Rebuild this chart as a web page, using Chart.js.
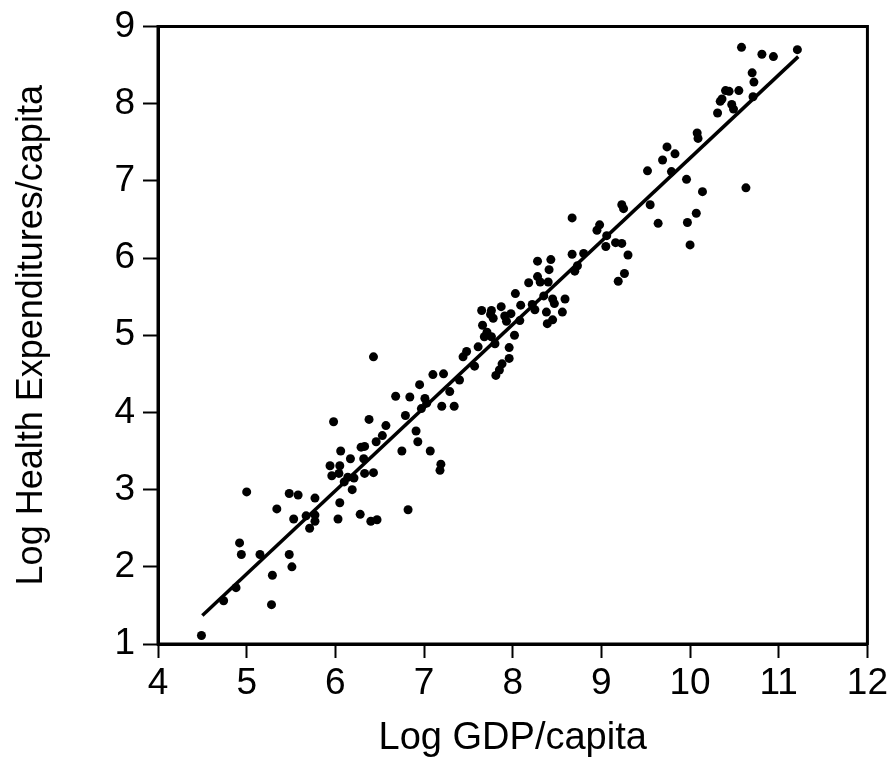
<!DOCTYPE html>
<html>
<head>
<meta charset="utf-8">
<script src="https://cdn.jsdelivr.net/npm/chart.js@4.4.1/dist/chart.umd.min.js"></script>
<style>
  html, body { margin: 0; padding: 0; background: #fff; }
  #wrap { position: relative; width: 892px; height: 763px; }
</style>
</head>
<body>
<div id="wrap"><canvas id="scatterChart"></canvas></div>
<script>
// --- data ---
const logGdp = [
  4.49, 4.74, 4.88, 4.92, 4.94, 5.00, 5.15, 5.29, 5.28, 5.34,
  5.48, 5.48, 5.51, 5.53, 5.58, 5.67, 5.71, 5.77, 5.77, 5.77,
  5.98, 5.94, 5.96, 6.04, 6.03, 6.06, 6.05, 6.05, 6.10, 6.14,
  6.17, 6.19, 6.21, 6.28, 6.29, 6.33, 6.32, 6.33, 6.38, 6.40,
  6.43, 6.43, 6.47, 6.46, 6.53, 6.57, 6.68, 6.75, 6.79, 6.82,
  6.84, 6.91, 6.93, 6.95, 6.97, 7.01, 7.03, 7.07, 7.10, 7.19,
  7.18, 7.20, 7.22, 7.29, 7.34, 7.40, 7.44, 7.48, 7.57, 7.61,
  7.65, 7.66, 7.68, 7.71, 7.75, 7.76, 7.78, 7.76, 7.80, 7.81,
  7.85, 7.87, 7.88, 7.91, 7.93, 7.96, 7.96, 7.98, 8.02, 8.03,
  8.08, 8.09, 8.18, 8.22, 8.25, 8.28, 8.28, 8.31, 8.35, 8.38,
  8.39, 8.40, 8.41, 8.43, 8.45, 8.45, 8.47, 8.56, 8.59, 8.67,
  8.67, 8.70, 8.73, 8.80, 8.95, 8.98, 9.06, 9.05, 9.16, 9.19,
  9.23, 9.23, 9.25, 9.26, 9.30, 9.52, 9.55, 9.64, 9.69, 9.74,
  9.79, 9.83, 9.96, 9.97, 10.00, 10.07, 10.08, 10.09, 10.14, 10.31,
  10.34, 10.36, 10.40, 10.44, 10.47, 10.49, 10.55, 10.58, 10.63, 10.70,
  10.72, 10.71, 10.81, 10.94, 11.21
];
const logHealth = [
  1.11, 1.56, 1.73, 2.31, 2.16, 2.97, 2.16, 1.89, 1.51, 2.75,
  2.95, 2.16, 2.00, 2.62, 2.93, 2.66, 2.50, 2.89, 2.67, 2.59,
  3.88, 3.31, 3.18, 3.21, 2.62, 3.50, 3.31, 2.83, 3.10, 3.16,
  3.40, 3.00, 3.15, 2.68, 3.55, 3.56, 3.40, 3.21, 3.91, 2.59,
  3.22, 4.72, 2.61, 3.62, 3.70, 3.83, 4.21, 3.50, 3.96, 2.74,
  4.20, 3.76, 3.62, 4.36, 4.05, 4.18, 4.12, 3.50, 4.49, 3.33,
  3.25, 4.08, 4.50, 4.27, 4.08, 4.42, 4.72, 4.79, 4.60, 4.85,
  5.32, 5.13, 4.98, 5.04, 5.27, 5.32, 5.22, 4.98, 4.89, 4.48,
  4.55, 5.37, 4.63, 5.25, 5.18, 4.84, 4.70, 5.28, 5.00, 5.54,
  5.19, 5.39, 5.68, 5.40, 5.33, 5.96, 5.76, 5.69, 5.51, 5.30,
  5.15, 5.69, 5.85, 5.98, 5.20, 5.47, 5.41, 5.30, 5.47, 6.52,
  6.05, 5.83, 5.90, 6.06, 6.36, 6.43, 6.29, 6.15, 6.20, 5.70,
  6.69, 6.19, 6.64, 5.80, 6.04, 7.13, 6.69, 6.45, 7.27, 7.44,
  7.12, 7.35, 7.02, 6.46, 6.17, 6.58, 7.62, 7.55, 6.86, 7.88,
  8.03, 8.06, 8.17, 8.16, 7.99, 7.93, 8.17, 8.73, 6.91, 8.40,
  8.28, 8.09, 8.64, 8.61, 8.70
];
// fitted line, its two ends
const fitX = [4.50, 11.22];
const fitY = [1.37, 8.61];

const xTicks = [4, 5, 6, 7, 8, 9, 10, 11, 12];
const yTicks = [1, 2, 3, 4, 5, 6, 7, 8, 9];

const FONT = "'Liberation Sans', Arial, sans-serif";

// cadre complet autour de la zone du graphique
const framePlugin = {
  id: 'frame',
  afterDraw(chart) {
    const a = chart.chartArea;
    const ctx = chart.ctx;
    ctx.save();
    ctx.strokeStyle = '#000';
    ctx.lineWidth = 3;
    ctx.strokeRect(a.left, a.top, a.right - a.left, a.bottom - a.top);
    ctx.restore();
  }
};

const ctx = document.getElementById('scatterChart').getContext('2d');
new Chart(ctx, {
  type: 'scatter',
  data: {
    datasets: [
      {
        data: logGdp.map((x, i) => ({ x: x, y: logHealth[i] })),
        pointRadius: 4.5,
        pointBorderWidth: 0,
        pointBackgroundColor: '#000',
        pointHoverRadius: 4.5
      },
      {
        type: 'line',
        data: fitX.map((x, i) => ({ x: x, y: fitY[i] })),
        borderColor: '#000',
        borderWidth: 3.5,
        pointRadius: 0,
        fill: false
      }
    ]
  },
  options: {
    responsive: true,
    maintainAspectRatio: false,
    animation: false,
    layout: { padding: { top: 25, right: 24, left: 0, bottom: 0 } },
    plugins: { legend: { display: false }, tooltip: { enabled: false } },
    scales: {
      x: {
        type: 'linear',
        min: 4, max: 12,
        afterBuildTicks: s => { s.ticks = xTicks.map(v => ({ value: v })); },
        afterFit: s => { s.height = 119; },
        border: { display: true, color: '#000', width: 3 },
        grid: { drawOnChartArea: false, drawTicks: true, tickLength: 14, tickWidth: 2, tickColor: '#000' },
        ticks: { color: '#000', padding: 4, font: { family: FONT, size: 37 }, maxRotation: 0, autoSkip: false },
        title: { display: true, text: 'Log GDP/capita', color: '#000', font: { family: FONT, size: 38 }, padding: { top: 0, bottom: 2 } }
      },
      y: {
        type: 'linear',
        min: 1, max: 9,
        afterBuildTicks: s => { s.ticks = yTicks.map(v => ({ value: v })); },
        afterFit: s => { s.width = 158; },
        border: { display: true, color: '#000', width: 3 },
        grid: { drawOnChartArea: false, drawTicks: true, tickLength: 15, tickWidth: 2, tickColor: '#000' },
        ticks: { color: '#000', padding: 8, font: { family: FONT, size: 37, lineHeight: 1 }, autoSkip: false },
        title: { display: true, text: 'Log Health Expenditures/capita', color: '#000', font: { family: FONT, size: 36 }, padding: { top: 10, bottom: 0 } }
      }
    }
  },
  plugins: [framePlugin]
});
</script>
</body>
</html>
